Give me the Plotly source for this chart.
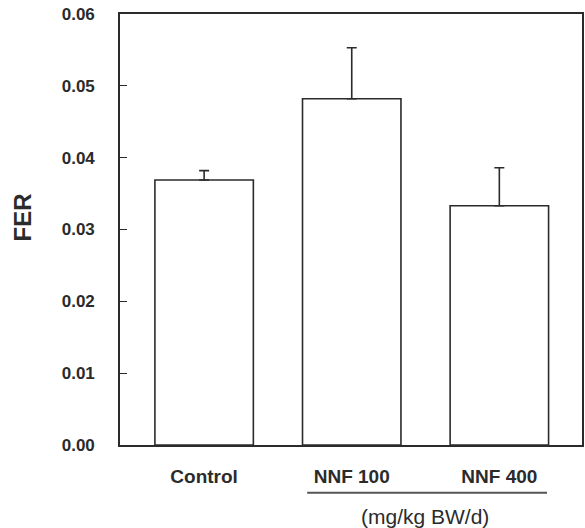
import plotly.graph_objects as go

# Feed efficiency ratio by group (mean and SE)
groups = ["Control", "NNF 100", "NNF 400"]
fer_mean = [0.0369, 0.0482, 0.0333]
fer_se = [0.0013, 0.0071, 0.0053]
y_ticks = [0.00, 0.01, 0.02, 0.03, 0.04, 0.05, 0.06]
y_ticktext = ["0.00", "0.01", "0.02", "0.03", "0.04", "0.05", "0.06"]

INK = "#2b2b2b"
FONT = "Arial, 'Liberation Sans', sans-serif"

fig = go.Figure()
fig.add_trace(go.Bar(
    x=groups,
    y=fer_mean,
    width=0.667,
    marker=dict(color="white", line=dict(color=INK, width=1.6)),
    error_y=dict(type="data", array=fer_se, arrayminus=[0, 0, 0],
                 symmetric=False, color=INK, thickness=1.6, width=5),
    showlegend=False,
))

fig.update_layout(
    width=585, height=528,
    margin=dict(l=120, r=1, t=14, b=83),
    paper_bgcolor="white", plot_bgcolor="white",
    font=dict(family=FONT, color=INK),
    bargap=0.333,
)

fig.update_xaxes(
    type="category",
    range=[-0.57, 2.56],
    showline=True, linecolor=INK, linewidth=1.6, mirror=True,
    ticks="", showgrid=False, zeroline=False,
    tickfont=dict(size=19, family=FONT, color=INK, weight="bold"),
    ticklabelstandoff=13,
)

fig.update_yaxes(
    range=[0, 0.06],
    tickvals=y_ticks, ticktext=y_ticktext,
    showline=True, linecolor=INK, linewidth=1.6, mirror=True,
    ticks="inside", ticklen=7, tickwidth=1.4, tickcolor=INK,
    showgrid=False, zeroline=False,
    tickfont=dict(size=17, family=FONT, color=INK, weight="bold"),
    ticklabelstandoff=20,
)

# Y-axis label, set slightly above the axis midpoint
fig.add_annotation(text="FER", xref="paper", yref="paper",
                   x=(23 - 120) / 464, y=(445 - 217) / 431,
                   xanchor="center", yanchor="middle", textangle=-90,
                   showarrow=False,
                   font=dict(size=24, family=FONT, color=INK, weight="bold"))

# Bracket line grouping the NNF doses and the dose unit label
fig.add_shape(type="line", xref="x", yref="paper",
              x0=0.698, x1=2.323, y0=-0.111, y1=-0.111,
              line=dict(color="#555555", width=2))
fig.add_annotation(text="(mg/kg BW/d)", xref="paper", yref="paper",
                   x=(426 - 120) / 464, y=-0.167, yanchor="middle",
                   showarrow=False,
                   font=dict(size=21, family=FONT, color=INK))

fig.write_html("out.html")
